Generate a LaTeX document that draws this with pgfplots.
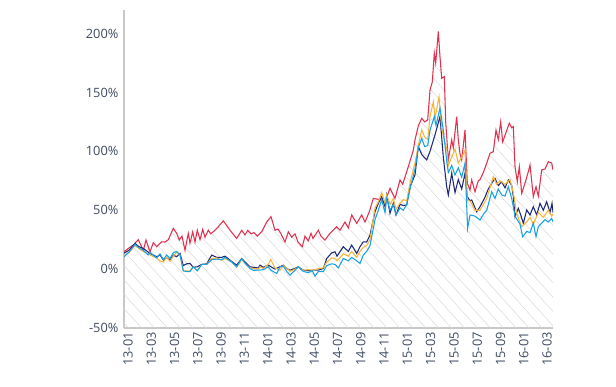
\documentclass[border=0pt]{standalone}
\usepackage{pgfplots}
\pgfplotsset{compat=1.18}
\usepackage{pgfplotstable}
\usetikzlibrary{patterns.meta}
\usepackage{fontspec}
\setmainfont{Open Sans}
\definecolor{cred}{HTML}{E0314F}
\definecolor{corange}{HTML}{F7B538}
\definecolor{cnavy}{HTML}{1E2A78}
\definecolor{cblue}{HTML}{17A2E6}
\definecolor{ctext}{HTML}{3D4A60}
\definecolor{caxis}{HTML}{C8C8C8}
\definecolor{chatch}{HTML}{DADADA}

\pgfplotstableread{
x y
0 14.7
5 18
10 21
14.3 25
19.3 16
22 24.7
26 14.7
29.3 22.4
32.7 19
37.7 23.2
41 23
44.3 25
49.3 34.6
52.7 30.4
55.3 24.7
58 28
61 16
64.3 30.4
66 22
68.7 31.7
71 23
73.3 33
76 25
78.7 33.7
81 27
84.3 33
86.7 30
91 33
94.3 36
99.3 41
102.7 37
106 33
112.7 26
117.7 33
121 29
123.7 33
127 30
130 31
133.3 28
138 32
142.7 40
147 44.5
151 33
154 34
157 30
161 23
164.3 31.7
167.7 27
171 30
174 23
178.3 19
181 28
184.3 24
187 30.4
189 26
194.3 33
197 28
201 24.7
206 30.4
212.7 36
216 33
221 40
224.3 35
227.7 46
232.7 38.9
237.7 46
241 40
245.3 48.7
249.3 60
256 59
261 57
266 68.6
271 60
276 75.7
278.7 72
284.3 87
289.3 101
291 109.7
294.3 121.6
297.7 128
300.7 125
303.7 126.7
306 152
308.3 159
310.3 183.4
311.7 175
314.3 201.8
316 180
317.7 162
320.3 163.5
321.7 125
324.3 92.7
327.7 109.7
329.3 103
332.7 129.5
334.3 109.7
336 98
337.7 92.7
341 118.2
343.3 72.9
346 67.2
347.7 75.7
351 65.7
354.3 75
356 76
359.3 82
362.7 89.9
366 98.4
369.3 99.7
372 118
374.3 110
376.7 125
378.7 108
382 116
385.3 123.9
387.7 120
389.3 121
391 87
393.3 74.2
395.3 87
397.7 64.4
401 73
404.3 82.7
406 88.4
409.3 61.5
412 70
414.3 62
417.7 84.2
421 85
424.3 91.2
427.7 90
429 84.2
}\redtab

\pgfplotstableread{
x y
0 13.6
5 16
11 21.8
15 19
19.3 17.6
26 13.3
32.7 10.5
36 12
39.3 7.7
42.7 9.5
46 7.7
49.3 11.9
52.7 10.5
56 13.3
59.3 3
62.7 4.5
66 4.8
69.3 1.5
73.3 2
77.7 4
82.7 4.5
87.7 11.9
92.7 10
97.7 10
101 11
107.7 6.5
112.7 3.4
117.7 9
121 6.2
126 2
129.3 1.5
134.3 1
136 3.4
139.3 1.5
144.3 3.4
147 2
151 0
156 2
159.3 3.4
162.7 0.5
166 -0.9
171 0.6
174.3 2
179.3 -0.9
184.3 -1.4
189.3 -0.9
194.3 -0.9
199.3 0.6
202.7 9
207.7 13.8
211 14.7
213 11
219.3 19
224.3 15
227.7 20.4
232.7 13.3
236 19
239.3 23.2
242.7 23
246 28.9
251 48.7
254.3 55.9
257.7 61.5
261 53
262.7 63
266 47.4
269.3 56
272 46
276 55
279.3 54
282.7 54.4
286 70
291 80
294.3 104
298 97
302.7 92.7
306 100
311 114
316 129.5
319.3 95
322.7 70
324.3 63
327.7 81.4
331 65
334.3 76
337.7 68
341 81.4
343.3 61.5
346 58
347.7 58.7
352.7 48.7
356 53
361 61
364.3 68
367.7 72.9
371 77
374.3 71
377.7 74
381 69
384.3 75.7
387.7 71
389.3 62
391 44.5
394.3 51.6
396.7 46
399.3 38.9
402.7 50.2
406 46
409.3 53
412.7 46
416 55.9
419.3 50
422.7 57.2
426 48
428 55.9
429 48
}\navytab

\pgfplotstableread{
x y
0 11
5 14
11 20
15 17.5
19.3 15
26 12
32.7 9.5
36 7
39.3 6
42.7 10
46 6.5
49.3 11
52.7 14.5
56 12
59.3 -1.5
62.7 -1.5
66 -1.5
69.3 2
73.3 -1
77.7 4
82.7 4
87.7 9
92.7 9.5
97.7 7.5
101 9
107.7 6
112.7 1.5
117.7 8
121 5
126 1
129.3 0.5
134.3 0
136 2
139.3 0.5
144.3 4
146.7 8.2
151 1
156 -1
159.3 3
162.7 1
166 -2
171 0
174.3 1.5
179.3 -1
184.3 -0.5
189.3 -1
194.3 0.5
199.3 1
202.7 6
207.7 9.5
211 9
213 7
219.3 13
224.3 11
227.7 15
232.7 10
236 15
239.3 18.5
242.7 20
246 25
251 52
254.3 57
257.7 65
261 56
262.7 63
266 55
269.3 60
272 51
276 56
279.3 59
282.7 58
286 73
291 90
294.3 105
297.7 118.2
300.7 112
303.7 110
306 129.5
309.3 142
311 128
315 146.5
317.7 120
320 110
322.7 102.6
324.3 88
327.7 95
331 102
334.3 90
337.7 95
341 101
343.3 58
346 58
351 50
356 50
362.7 60
369.3 78.5
372.7 72
376 75
381 72
386 76
389.3 65
392.7 47
397.7 36
402.7 40
406 44
409.3 38
414.3 48
419.3 44
424.3 50
427.7 45
429 47
}\orangetab

\pgfplotstableread{
x y
0 10.5
5 14.5
11 21
15 18
19.3 16
24 12
26 14
32.7 9.5
36 13
39.3 8
42.7 12
46 9
49.3 14
52.7 15
56 12
59.3 -1.5
62.7 -2
66 -2
69.3 2
73.3 -1.5
77.7 4
82.7 4
87.7 8
92.7 8.5
97.7 8
101 10
107.7 6
112.7 2
117.7 9
121 5
126 0.5
129.3 -1
134.3 -0.9
139.3 -0.5
144.3 2
147 -1
152.7 -3.7
156 2
159.3 2.5
162.7 -2
166 -5.1
171 -1
174.3 2
179.3 -2
184.3 -3
188.3 -1.4
191 -6
194.3 -2
199.3 -2
202.7 3
207.7 4.5
211 4
214.3 1
219.3 9
224.3 7
227.7 10
232.7 7
236 4.8
239.3 12
242.7 15
246 20
251 42
254.3 50
257.7 59
261 48
262.7 60
266 50
269.3 55
272 46
276 52
279.3 50
282.7 55
286 68
291 85
294.3 103
297.7 111
300.7 104
303.7 105
306 118
310.3 129.5
312 122
316 136.7
319.3 118
322.7 92
324.3 82
327.7 88
331 80
334.3 86
337.7 78
341 90
343.6 34.6
346 46
351 45
356 41.7
359.7 47
362.7 50
367.7 65.7
371 60
374.3 68
377.7 63
381 62
384.3 70
387.7 60
391 45
396 38
398.7 27.5
402.7 32
406 31
409.3 39
412 27.5
414.3 36
417.7 39
421 42
424.3 40
427.7 43
429 40
}\bluetab

\begin{document}
\begin{tikzpicture}
\begin{axis}[
  at={(93pt,43.5pt)}, anchor=south west,
  scale only axis, width=321.75pt, height=238.5pt,
  xmin=0, xmax=429, ymin=-50, ymax=220,
  axis x line=bottom, axis y line=left,
  axis line style={draw=caxis, line width=0.8pt, -},
  major tick length=0pt,
  ytick={-50,0,50,100,150,200},
  yticklabels={-50\%,0\%,50\%,100\%,150\%,200\%},
  xtick={4,27.28,50.56,73.84,97.12,120.4,143.68,166.96,190.24,213.52,236.8,260.08,283.36,306.64,329.92,353.2,376.48,399.76,423.04},
  xticklabels={13-01,13-03,13-05,13-07,13-09,13-11,14-01,14-03,14-05,14-07,14-09,14-11,15-01,15-03,15-05,15-07,15-09,16-01,16-03},
  x tick label style={rotate=90, anchor=east},
  ticklabel style={font=\fontsize{9.6}{11}\selectfont, text=ctext},
  xticklabel style={inner sep=3pt},
  yticklabel style={inner sep=4pt},
]
\addplot[draw=none, fill=none, pattern={Lines[angle=-48, distance=7.2pt, line width=0.4pt]}, pattern color=chatch] table {\redtab} -- (axis cs:429,-50) -- (axis cs:0,-50) -- cycle;
\addplot[cred, line width=0.8pt] table {\redtab};
\addplot[cnavy, line width=0.8pt] table {\navytab};
\addplot[corange, line width=0.8pt] table {\orangetab};
\addplot[cblue, line width=0.8pt] table {\bluetab};
\end{axis}
\path[use as bounding box] (0,0) rectangle (462pt,289.5pt);
\end{tikzpicture}
\end{document}
